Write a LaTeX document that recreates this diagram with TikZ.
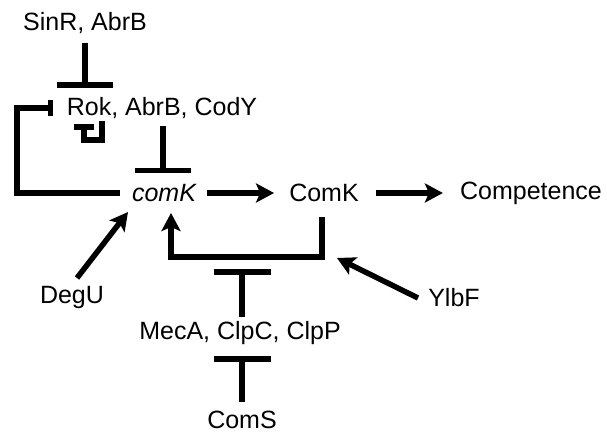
\documentclass[tikz,border=0pt]{standalone}
\usepackage{fontspec}
\setmainfont{Liberation Sans}
\usetikzlibrary{arrows.meta}
\begin{document}
\begin{tikzpicture}[x=1pt,y=-1pt,
  lbl/.style={inner sep=0pt,font=\fontsize{25}{30}\selectfont},
  conn/.style={line width=5.5pt,line join=miter},
  act/.style={conn,-{Stealth[length=18pt,width=19pt,inset=4pt]}},
  inhib/.style={conn,-{Bar[width=#1]}},
  inhib/.default=56pt]
\useasboundingbox (0,0) rectangle (607,433);
\node[lbl] (sinr) at (85,23) {SinR, AbrB};
\node[lbl] (rok) at (162,108) {Rok, AbrB, CodY};
\node[lbl] (comkg) at (164,193) {\itshape comK};
\node[lbl] (comkp) at (324,193) {ComK};
\node[lbl] (comp) at (531,193) {Competence};
\node[lbl] (degu) at (72,297) {DegU};
\node[lbl] (ylbf) at (454,298) {YlbF};
\node[lbl] (mec) at (240,333) {MecA, ClpC, ClpP};
\node[lbl] (coms) at (242,420) {ComS};
% connector ends
\coordinate (sinrS) at (85,43);
\coordinate (sinrE) at (85,88);
\coordinate (rokS) at (163,126);
\coordinate (rokE) at (163,173);
\coordinate (loopE) at (53,108);
\coordinate (selfE) at (84,124);
\coordinate (fbE) at (171,213);
\coordinate (fbCorner) at (322,257);
\coordinate (mecE) at (242,269);
\coordinate (comsE) at (242,356);
% connectors
\draw[inhib] (sinrS) -- (sinrE);
\draw[inhib] (rokS) -- (rokE);
\draw[inhib=16pt] ([xshift=-12pt]comkg.west) -- (17,193) -- (17,108) -- (loopE);
\draw[inhib=20pt] (102,121) -- (102,140) -- (84,140) -- (selfE);
\draw[act] ([xshift=11pt]comkg.east) -- ([xshift=-15pt]comkp.west);
\draw[act] ([xshift=17pt]comkp.east) -- ([xshift=-17pt]comp.west);
\draw[act] (322,217) -- (fbCorner) -- (171,257) -- (fbE);
\draw[inhib=57pt] (242,317) -- (mecE);
\draw[inhib=57pt] (242,402) -- (comsE);
\draw[act] (77,278) -- (128,212);
\draw[act] (418,298) -- (337,258);
\end{tikzpicture}
\end{document}
